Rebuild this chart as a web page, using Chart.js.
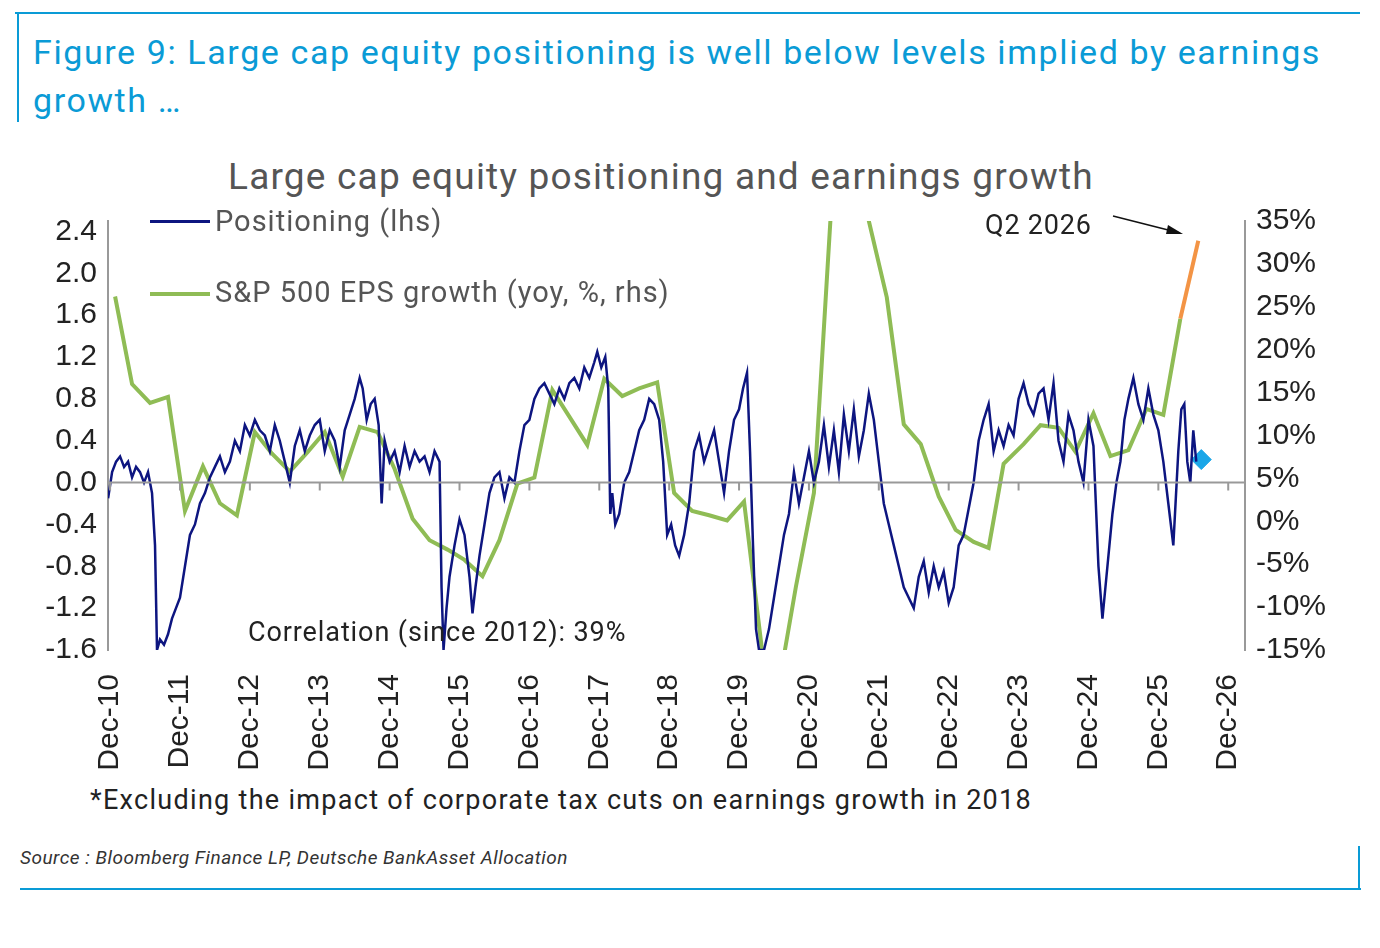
<!DOCTYPE html>
<html><head><meta charset="utf-8">
<script src="https://cdn.jsdelivr.net/npm/chart.js@4"></script>
<style>
body{margin:0;background:#fff;font-family:Roboto,"Liberation Sans",sans-serif;}
.abs{position:absolute;white-space:nowrap;}
</style></head><body>
<div class="abs" style="left:15px;top:12px;width:1345px;height:2px;background:#0a9bd6"></div>
<div class="abs" style="left:17px;top:12px;width:2px;height:110px;background:#0a9bd6"></div>
<div class="abs" style="left:33px;top:28px;font-size:34px;letter-spacing:1.6px;color:#0a9bd6;line-height:48px">Figure 9: Large cap equity positioning is well below levels implied by earnings<br>growth …</div>
<div class="abs" style="left:228px;top:155px;font-size:37px;letter-spacing:1.2px;color:#555">Large cap equity positioning and earnings growth</div>
<div class="abs" style="left:20px;top:888px;width:1341px;height:2px;background:#0a9bd6"></div>
<div class="abs" style="left:1358px;top:846px;width:2px;height:44px;background:#0a9bd6"></div>
<div class="abs" style="left:20px;top:846px;font-size:19px;letter-spacing:0.5px;font-style:italic;color:#333">Source : Bloomberg Finance LP, Deutsche BankAsset Allocation</div>
<div class="abs" style="left:90px;top:784px;font-size:27px;letter-spacing:1.3px;color:#222">*Excluding the impact of corporate tax cuts on earnings growth in 2018</div>
<div class="abs" style="left:0;top:200px;width:1380px;height:600px"><canvas id="c"></canvas></div>
<div class="abs" style="left:150px;top:220px;width:60px;height:3px;background:#0d1580"></div>
<div class="abs" style="left:215px;top:204px;font-size:29px;letter-spacing:1px;color:#555">Positioning (lhs)</div>
<div class="abs" style="left:150px;top:292px;width:60px;height:4px;background:#8fbc55"></div>
<div class="abs" style="left:215px;top:275px;font-size:29px;letter-spacing:1px;color:#555">S&amp;P 500 EPS growth (yoy, %, rhs)</div>
<div class="abs" style="left:248px;top:616px;font-size:27px;letter-spacing:0.9px;color:#222">Correlation (since 2012): 39%</div>
<div class="abs" style="left:985px;top:209px;font-size:27px;letter-spacing:0.8px;color:#222">Q2 2026</div>
<script>
const yearTicks=[2010,2011,2012,2013,2014,2015,2016,2017,2018,2019,2020,2021,2022,2023,2024,2025,2026];
const tickLabels=yearTicks.map(y=>'Dec-'+String(y).slice(2));
const posPx=[108,112,116,120,124,128,132,136,140,144,148,152,155,157,160,164,168,172,176,180,185,190,195,200,205,210,215,220,225,230,235,240,245,250,255,260,265,270,275,280,285,290,295,300,305,310,315,320,325,330,335,340,345,350,355,360,363,367,371,375,379,382,385,390,395,400,405,410,415,420,425,430,435,440,442,444,447,450,455,460,465,470,473,476,480,485,490,495,500,505,510,515,520,525,530,535,540,545,550,555,560,565,570,575,580,585,590,595,598,602,606,609,611,613,616,620,625,630,635,640,645,650,655,660,664,668,672,676,680,685,690,695,700,705,710,715,720,725,730,735,740,744,748,751,754,757,760,765,770,775,780,785,790,795,800,805,810,815,820,825,830,835,840,845,850,855,860,865,870,875,880,885,890,895,900,905,910,915,920,925,930,935,940,945,950,955,960,965,970,975,980,985,990,995,1000,1005,1010,1015,1020,1025,1030,1035,1040,1045,1050,1055,1060,1065,1070,1075,1080,1085,1090,1095,1100,1104,1108,1111,1114,1118,1122,1126,1130,1135,1140,1145,1150,1155,1160,1165,1170,1175,1180,1183,1186,1189,1192,1195,1198,1201,1204];
const posVal=[-0.15,0.1,0.2,0.25,0.15,0.2,0.05,0.15,0.1,0.0,0.1,-0.1,-0.6,-1.6,-1.5,-1.55,-1.45,-1.3,-1.2,-1.1,-0.8,-0.5,-0.4,-0.2,-0.1,0.05,0.15,0.25,0.1,0.2,0.4,0.3,0.55,0.45,0.6,0.5,0.45,0.3,0.55,0.4,0.2,0.0,0.35,0.5,0.3,0.45,0.55,0.6,0.3,0.5,0.4,0.15,0.5,0.65,0.8,1.0,0.9,0.6,0.75,0.8,0.55,-0.2,0.4,0.2,0.3,0.1,0.35,0.15,0.3,0.2,0.25,0.1,0.3,0.2,-1.0,-1.6,-1.2,-0.9,-0.6,-0.35,-0.5,-0.9,-1.25,-1.0,-0.7,-0.4,-0.1,0.05,0.1,-0.15,0.05,0.0,0.3,0.55,0.6,0.8,0.9,0.95,0.85,0.75,0.9,0.8,0.95,1.0,0.9,1.1,1.0,1.15,1.25,1.1,1.2,0.9,-0.3,-0.1,-0.4,-0.3,0.0,0.1,0.3,0.5,0.6,0.8,0.75,0.6,0.2,-0.5,-0.4,-0.6,-0.7,-0.5,-0.2,0.3,0.45,0.2,0.35,0.5,0.2,-0.1,0.3,0.6,0.7,0.9,1.05,0.3,-0.6,-1.4,-1.6,-1.6,-1.4,-1.1,-0.8,-0.5,-0.3,0.1,-0.2,0.05,0.3,0.0,0.2,0.55,0.15,0.5,0.1,0.65,0.3,0.7,0.25,0.5,0.85,0.6,0.2,-0.2,-0.4,-0.6,-0.8,-1.0,-1.1,-1.2,-0.9,-0.75,-1.05,-0.8,-1.0,-0.85,-1.15,-1.0,-0.6,-0.5,-0.25,0.0,0.4,0.6,0.75,0.3,0.5,0.35,0.55,0.45,0.8,0.95,0.75,0.65,0.85,0.9,0.6,0.95,0.4,0.2,0.65,0.5,0.2,0.0,0.6,0.35,-0.8,-1.3,-0.9,-0.6,-0.3,0.0,0.2,0.6,0.8,1.0,0.75,0.6,0.9,0.65,0.5,0.2,-0.2,-0.6,0.3,0.7,0.75,0.2,0.0,0.5,0.2];
const posX=posPx.map(p=>2010.92+(p-110)/70);
const epsPx=[115,132,150,168,185,203,220,237,255,272,290,308,325,343,360,378,395,413,430,448,465,483,500,518,535,553,570,588,605,623,640,658,675,693,710,728,745,763,780,797,815,832,850,870,888,905,922,940,957,975,990,1005,1025,1042,1060,1077,1095,1112,1130,1148,1165,1182];
const epsVal=[26.2,16,13.8,14.5,1.2,6.4,2.1,0.7,10.4,7.9,5.8,8.1,10.4,5.2,11,10.4,6.1,0.3,-2.2,-3.3,-4.5,-6.4,-2.2,4.4,5.1,15.3,12.2,8.9,16.6,14.6,15.5,16.2,3.3,1.2,0.7,0.1,2.3,-15,-19,-7.6,3.3,36,55,35,26.1,11.3,9,2.9,-1,-2.4,-3.1,6.7,9,11.2,10.9,8.1,12.6,7.6,8.3,13.1,12.4,23.6];
const fcPx=[1182,1200];const fcVal=[23.6,32.7];
const diamondPx=[1203];const diamondVal=[0.22];
const tx=p=>2010.92+(p-110)/70;
const zeroLine={id:'z',afterDatasetsDraw(c){const {ctx,scales:{x,y}}=c;const yy=y.getPixelForValue(0);ctx.save();ctx.strokeStyle='#999';ctx.lineWidth=2;ctx.beginPath();ctx.moveTo(c.chartArea.left,yy);ctx.lineTo(c.chartArea.right,yy);for(const t of yearTicks){const xp=x.getPixelForValue(t+0.92);ctx.moveTo(xp,yy);ctx.lineTo(xp,yy+8);}ctx.stroke();
ctx.strokeStyle='#111';ctx.lineWidth=1.5;ctx.beginPath();ctx.moveTo(1113,16);ctx.lineTo(1180,33);ctx.stroke();ctx.fillStyle='#111';ctx.beginPath();ctx.moveTo(1183,34);ctx.lineTo(1168,25);ctx.lineTo(1166,34);ctx.fill();ctx.restore();}};
new Chart(document.getElementById('c'),{type:'line',
data:{datasets:[
{data:posX.map((x,i)=>({x,y:posVal[i]})),borderColor:'#0d1580',borderWidth:2.5,pointRadius:0,yAxisID:'y',tension:0},
{data:epsPx.map((p,i)=>({x:tx(p),y:epsVal[i]})),borderColor:'#8fbc55',borderWidth:4,pointRadius:0,yAxisID:'y2',tension:0},
{data:fcPx.map((p,i)=>({x:tx(p),y:fcVal[i]})),borderColor:'#f39445',borderWidth:4,pointRadius:0,yAxisID:'y2'},
{data:diamondPx.map((p,i)=>({x:tx(p),y:diamondVal[i]})),showLine:false,pointStyle:'rectRot',pointRadius:10,backgroundColor:'#1aa6e8',borderColor:'#1aa6e8',yAxisID:'y'}
]},
options:{animation:false,responsive:true,maintainAspectRatio:false,layout:{padding:{top:6}},
plugins:{legend:{display:false},tooltip:{enabled:false}},
scales:{
x:{type:'linear',min:2010.89,max:2027.16,afterBuildTicks(a){a.ticks=yearTicks.map(y=>({value:y+0.92}));},
afterFit(a){a.height=150;},grid:{display:false},border:{display:false},
ticks:{maxRotation:90,minRotation:90,autoSkip:false,color:'#222',font:{size:30},padding:16,callback:(v)=>'Dec-'+String(Math.round(v-0.92)).slice(2)}},
y:{min:-1.6,max:2.5,afterBuildTicks(a){a.ticks=[];for(let i=-4;i<=6;i++)a.ticks.push({value:i*0.4});},afterFit(a){a.width=108;},
grid:{display:false},border:{color:'#999',width:2},
ticks:{color:'#222',font:{size:30},callback:v=>v.toFixed(1)}},
y2:{position:'right',min:-15,max:35,afterBuildTicks(a){a.ticks=[];for(let v=-15;v<=35;v+=5)a.ticks.push({value:v});},afterFit(a){a.width=135;},
grid:{display:false},border:{color:'#999',width:2},
ticks:{color:'#222',font:{size:30},callback:v=>v+'%'}}
}},plugins:[zeroLine]});
</script></body></html>
